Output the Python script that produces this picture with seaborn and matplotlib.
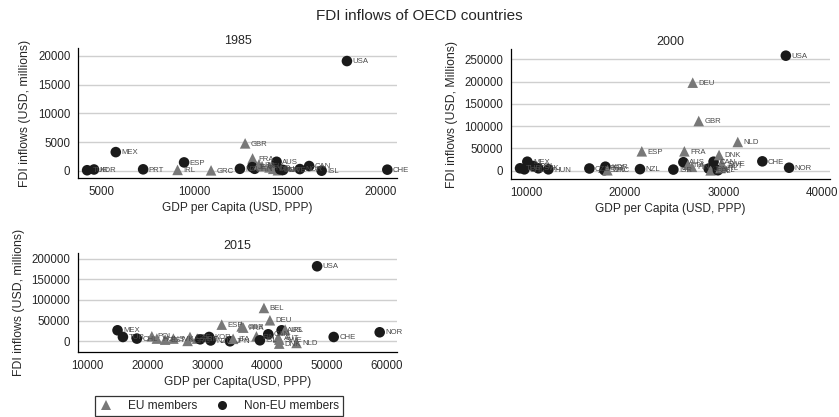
import matplotlib
matplotlib.use("Agg")
import matplotlib.pyplot as plt
from matplotlib.lines import Line2D
import pandas as pd
import seaborn as sns

# ---- 1985 ----
codes_1985 = ["TUR", "KOR", "MEX", "PRT", "IRL", "ESP", "GRC", "NZL", "GBR", "FRA",
              "JPN", "FIN", "ITA", "BEL", "NLD", "DEU", "AUS", "DNK", "AUT", "SWE",
              "NOR", "CAN", "ISL", "USA", "CHE"]
gdp_1985 = [4250, 4620, 5790, 7260, 9110, 9460, 10910, 12460, 12740, 13140,
            13120, 13250, 13480, 13650, 14050, 14250, 14430, 14500, 14620, 14780,
            15680, 16180, 16850, 18210, 20380]
fdi_1985 = [100, 230, 3250, 260, 160, 1460, 80, 350, 4770, 2150,
            640, 350, 1100, 800, 600, 350, 1570, 100, 250, 150,
            300, 830, 20, 19080, 200]
eu_1985 = [0, 0, 0, 0, 1, 0, 1, 0, 1, 1,
           0, 0, 1, 1, 1, 1, 0, 1, 0, 0,
           0, 0, 0, 0, 0]

# ---- 2000 ----
codes_2000 = ["TUR", "CHL", "MEX", "POL", "SVK", "HUN", "CZE", "PRT", "KOR", "SVN",
              "GRC", "NZL", "ESP", "ISR", "AUS", "FRA", "ITA", "FIN", "DEU", "GBR",
              "JPN", "BEL", "CAN", "SWE", "AUT", "DNK", "ISL", "IRL", "NLD", "CHE",
              "USA", "NOR"]
gdp_2000 = [9320, 9760, 10060, 10670, 11180, 12200, 16370, 17800, 18000, 17900,
            18200, 21520, 21700, 24910, 25930, 26030, 26400, 26800, 26880, 27490,
            28500, 28700, 29000, 29830, 29900, 29560, 29440, 29700, 31460, 33960,
            36350, 36680]
fdi_2000 = [5400, 3100, 20200, 10500, 5400, 3100, 5000, 6700, 9000, 1000,
            1000, 3500, 43500, 2500, 19000, 43500, 13400, 8800, 197500, 111500,
            4800, 800, 20200, 16600, 10000, 35200, 1000, 6000, 64400, 21000,
            258000, 6700]
eu_2000 = [0, 0, 0, 0, 0, 0, 0, 1, 0, 0,
           1, 0, 1, 0, 0, 1, 1, 1, 1, 1,
           0, 1, 0, 1, 1, 1, 0, 1, 1, 0,
           0, 0]

# ---- 2015 ----
codes_2015 = ["MEX", "TUR", "CHL", "POL", "HUN", "EST", "SVK", "CZE", "PRT", "ISR",
              "KOR", "NZL", "GRC", "JPN", "ITA", "ESP", "GBR", "FRA", "FIN", "ISL",
              "BEL", "CAN", "DEU", "AUT", "SWE", "DNK", "AUS", "IRL", "NLD", "USA",
              "CHE", "NOR"]
gdp_2015 = [15000, 15900, 18230, 20730, 21570, 22950, 24330, 27100, 28300, 28800,
            30300, 30550, 26700, 33780, 34300, 32400, 35730, 36000, 38200, 38780,
            39450, 40170, 40450, 41830, 42000, 42000, 42400, 43000, 44900, 48330,
            51100, 58780]
fdi_2015 = [26600, 10400, 6500, 12100, 6500, 4000, 6500, 10400, 6500, 4800,
            10400, 2000, 1000, 0, 6000, 40300, 36000, 33000, 12000, 2400,
            80600, 17000, 50800, 8900, 4000, -5600, 26600, 28000, -4000, 181400,
            10400, 21800]
eu_2015 = [0, 0, 0, 1, 1, 1, 1, 1, 1, 0,
           0, 0, 1, 0, 1, 1, 1, 1, 1, 0,
           1, 0, 1, 1, 1, 1, 0, 1, 1, 0,
           0, 0]

GROUPS = ["EU members", "Non-EU members"]
MARKERS = {"EU members": "^", "Non-EU members": "o"}
COLORS = {"EU members": "#787878", "Non-EU members": "#1a1a1a"}

sns.set_style("white")
plt.rcParams["font.family"] = ["Liberation Sans", "DejaVu Sans"]
plt.rcParams["axes.edgecolor"] = "#000000"

W, H = 839, 417
fig = plt.figure(figsize=(W / 100, H / 100), dpi=100)


def frame(codes, gdp, fdi, eu):
    return pd.DataFrame({
        "code": codes,
        "gdp": gdp,
        "fdi": fdi,
        "group": [GROUPS[0] if e else GROUPS[1] for e in eu],
    })


def panel(rect, df, title, xlim, xticks, ylim, yticks, xlabel, ylabel):
    ax = fig.add_axes([rect[0] / W, 1 - rect[3] / H,
                       (rect[2] - rect[0]) / W, (rect[3] - rect[1]) / H])
    for yt in yticks:
        ax.axhline(yt, color="#cfcfcf", lw=1.0, zorder=0)
    sns.scatterplot(data=df, x="gdp", y="fdi", hue="group", style="group",
                    markers=MARKERS, palette=COLORS, hue_order=GROUPS,
                    style_order=GROUPS, s=58, linewidth=0, legend=False,
                    ax=ax, zorder=3)
    for _, r in df.iterrows():
        ax.annotate(r["code"], (r["gdp"], r["fdi"]), xytext=(4, -0.5),
                    textcoords="offset points", fontsize=5.6, color="#4a4a4a",
                    va="center", ha="left", zorder=4)
    ax.set_xlim(*xlim)
    ax.set_ylim(*ylim)
    ax.set_xticks(xticks)
    ax.set_yticks(yticks)
    ax.set_xlabel(xlabel, fontsize=8.6, labelpad=3)
    ax.set_ylabel(ylabel, fontsize=8.8, labelpad=5)
    ax.set_title(title, fontsize=9, pad=3)
    for s in ("top", "right"):
        ax.spines[s].set_visible(False)
    for s in ("left", "bottom"):
        ax.spines[s].set_linewidth(0.9)
    ax.tick_params(axis="both", direction="out", length=3.5, width=0.8,
                   labelsize=8.3, pad=2, color="#000000")
    return ax


panel((78, 48, 397, 178), frame(codes_1985, gdp_1985, fdi_1985, eu_1985), "1985",
      (3760, 20900), [5000, 10000, 15000, 20000],
      (-1250, 21350), [0, 5000, 10000, 15000, 20000],
      "GDP per Capita (USD, PPP)", "FDI inflows (USD, millions)")

panel((511, 49, 830, 179), frame(codes_2000, gdp_2000, fdi_2000, eu_2000), "2000",
      (8400, 40840), [10000, 20000, 30000, 40000],
      (-18600, 273000), [0, 50000, 100000, 150000, 200000, 250000],
      "GDP per Capita (USD, PPP)", "FDI inflows (USD, Millions)")

panel((78, 253, 397, 352), frame(codes_2015, gdp_2015, fdi_2015, eu_2015), "2015",
      (8400, 61670), [10000, 20000, 30000, 40000, 50000, 60000],
      (-25900, 213500), [0, 50000, 100000, 150000, 200000],
      "GDP per Capita(USD, PPP)", "FDI inflows (USD, millions)")

fig.suptitle("FDI inflows of OECD countries", fontsize=11, y=1 - 16 / H, va="center")

handles = [Line2D([], [], marker=MARKERS[g], color=COLORS[g], linestyle="",
                  markersize=6.5, markeredgewidth=0) for g in GROUPS]
leg = fig.legend(handles, GROUPS, loc="upper left", ncol=2,
                 bbox_to_anchor=(89 / W, 1 - 390 / H), fontsize=8.6,
                 frameon=True, fancybox=False, edgecolor="#000000",
                 columnspacing=1.5, handletextpad=1.2, borderpad=0.35,
                 handlelength=1.2)
leg.get_frame().set_linewidth(0.9)

fig.savefig("out.png", dpi=100)
